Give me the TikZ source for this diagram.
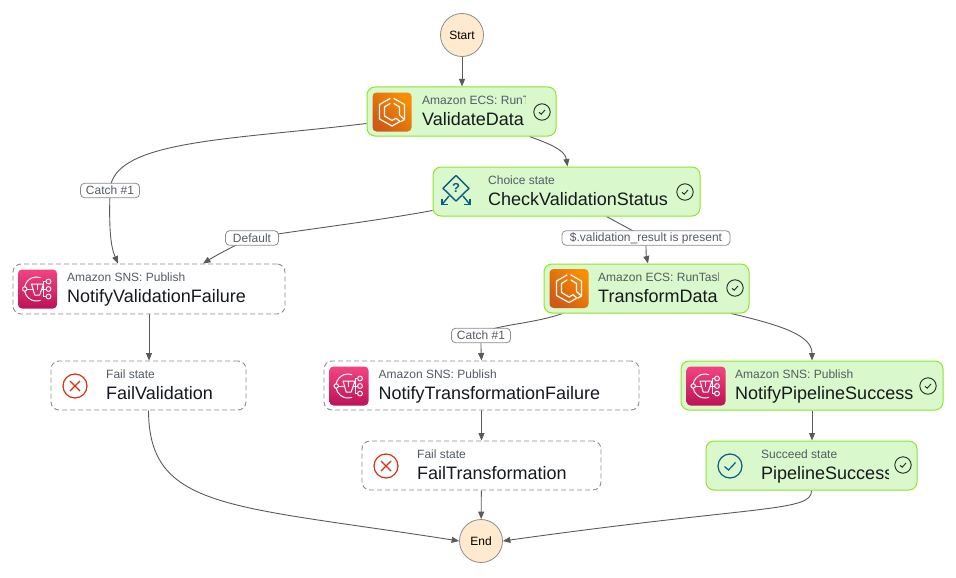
\documentclass[tikz,border=0pt]{standalone}
\usepackage{fontspec}
\setmainfont{Liberation Sans}
\usetikzlibrary{backgrounds,calc,arrows.meta}
\definecolor{okfill}{HTML}{D9F8CB}
\definecolor{okline}{HTML}{8EE52E}
\definecolor{dashline}{HTML}{8C8C8C}
\definecolor{edgecol}{HTML}{5A5A5A}
\definecolor{termfill}{HTML}{FFE9CF}
\definecolor{inkdark}{HTML}{16191F}
\definecolor{inksoft}{HTML}{545B64}
\definecolor{chk}{HTML}{1D2A2A}
\definecolor{blueic}{HTML}{0B5A87}
\definecolor{redic}{HTML}{D13212}
\definecolor{snstop}{HTML}{F34482}
\definecolor{snsbot}{HTML}{BC1356}
\definecolor{ecstop}{HTML}{F78E04}
\definecolor{ecsbot}{HTML}{CF5A16}
\tikzset{
  okstate/.style={draw=okline,fill=okfill,line width=1pt,rounded corners=8pt},
  pendstate/.style={draw=dashline,fill=white,line width=0.9pt,dash pattern=on 5pt off 3pt,rounded corners=8pt},
  termnode/.style={circle,draw=dashline,fill=termfill,line width=0.8pt,minimum size=43pt,inner sep=0pt,font=\fontsize{12}{12}\selectfont,text=black},
  edgelabel/.style={draw=dashline,fill=white,line width=0.8pt,rounded corners=4pt,inner sep=0pt,minimum height=14.5pt,text=inksoft,font=\fontsize{12}{12}\selectfont},
  conn/.style={draw=edgecol,line width=0.9pt,-{Triangle[length=7.5pt,width=6pt]}},
  smalltext/.style={anchor=base west,inner sep=0pt,text=inksoft,font=\fontsize{12}{12}\selectfont},
  bigtext/.style={anchor=base west,inner sep=0pt,text=inkdark,font=\fontsize{18}{18}\selectfont},
  ecsicon/.pic={
    \shade[rounded corners=4pt,top color=ecstop,bottom color=ecsbot,shading angle=-45] (-19.5,-19.5) rectangle (19.5,19.5);
    \draw[white,line width=1.2pt,line join=round,line cap=round]
      (-2,-13.5) -- (-12.5,-7.5) -- (-12.5,7) -- (0,14) -- (8,9.5);
    \draw[white,line width=1.2pt,line join=round,line cap=round]
      (-2,-8.5) -- (-7.5,-5) -- (-7.5,4) -- (0,8.5) -- (4,6.2) -- (8,9.5);
    \draw[white,line width=1.2pt,line join=round,line cap=round]
      (2,-13.5) -- (12.5,-7.5) -- (12.5,7.5) -- (9,9.5);
    \draw[white,line width=1.2pt,line join=round,line cap=round]
      (2,-8.5) -- (7.5,-5) -- (7.5,3) -- (12.5,7.5);
  },
  snsicon/.pic={
    \shade[rounded corners=4pt,top color=snstop,bottom color=snsbot] (-19.5,-19.5) rectangle (19.5,19.5);
    \draw[white,line width=1pt] (-12.8,-2.1) arc[start angle=190,end angle=290,radius=12];
    \draw[white,line width=1pt] (3.1,11.3) arc[start angle=70,end angle=170,radius=12];
    \draw[white,line width=1pt,line join=round] (-6,-5) -- (6,-5) -- (2.2,6) -- (-2.8,6) -- cycle;
    \draw[white,line width=1pt] (-0.5,-5) -- (-0.5,1);
    \draw[white,line width=1pt] (-12.8,0) circle[radius=2.2];
    \draw[white,line width=1pt] (-10.6,0) -- (-4.6,0);
    \draw[white,line width=1pt] (11,-7.5) circle[radius=2.4] (11,0) circle[radius=2.4] (11,7.5) circle[radius=2.4];
    \draw[white,line width=1pt] (8.6,-7.5) -- (6,-7.5) -- (6,7.5) -- (8.6,7.5) (4,0) -- (8.6,0);
  },
  choiceicon/.pic={
    \draw[blueic,line width=1.4pt,line join=round] (0,-16.5) -- (13,-3.7) -- (0,9) -- (-13,-3.7) -- cycle;
    \node[inner sep=0pt,text=blueic,font=\bfseries\fontsize{13}{13}\selectfont] at (0,-3.7) {?};
    \draw[blueic,line width=1.4pt] (-7,4) -- (-14,12.5) (7,4) -- (14,12.5);
    \draw[blueic,line width=1.4pt] (-14,6.5) -- (-14,12.5) -- (-8,12.5) (14,6.5) -- (14,12.5) -- (8,12.5);
  },
  failicon/.pic={
    \draw[redic,line width=1.2pt] (0,0) circle[radius=12];
    \draw[redic,line width=1.2pt] (-5,-5) -- (5,5) (-5,5) -- (5,-5);
  },
  succeedicon/.pic={
    \draw[blueic,line width=1.2pt] (0,0) circle[radius=12];
    \draw[blueic,line width=1.2pt] (-5.5,0.5) -- (-1.5,4) -- (5.5,-3.5);
  },
  checkicon/.pic={
    \draw[chk,line width=0.9pt] (0,0) circle[radius=8.2];
    \draw[chk,line width=0.9pt] (-3,0.3) -- (-0.8,2.2) -- (3,-2);
  }
}
% name, style, x0, y0, x1, y1, text offset, clip width, small; big text in \statebig
\newcommand{\stateblock}[9]{%
  \node[#2,minimum width=#5-#3,minimum height=#6-#4,inner sep=0pt] (#1) at ({(#3+#5)/2},{(#4+#6)/2}) {};
  \begin{scope}
    \clip ({#3+#7},#4) rectangle ({#3+#7+#8},#6);
    \node[smalltext] (#1small) at ({#3+#7},{(#4+#6)/2-7.5}) {#9};
    \node[bigtext] (#1big) at ({#3+#7},{(#4+#6)/2+13.5}) {\statebig};
  \end{scope}%
}
\newcommand{\statebig}{}
\begin{document}
\begin{tikzpicture}[x=1pt,y=-1pt]
\useasboundingbox (0,0) rectangle (956,578);
\node[termnode] (start) at (462,35) {Start};
\node[termnode] (end) at (481,541) {End};

\renewcommand{\statebig}{ValidateData}
\stateblock{val}{okstate}{367}{87}{556}{136}{55}{103}{Amazon ECS: RunTask}
\renewcommand{\statebig}{CheckValidationStatus}
\stateblock{chk}{okstate}{433}{167}{700}{216}{55}{190}{Choice state}
\renewcommand{\statebig}{NotifyValidationFailure}
\stateblock{nvf}{pendstate}{13}{264}{285}{314}{54}{200}{Amazon SNS: Publish}
\renewcommand{\statebig}{FailValidation}
\stateblock{fv}{pendstate}{51}{361}{246}{410}{55}{130}{Fail state}
\renewcommand{\statebig}{TransformData}
\stateblock{tr}{okstate}{544}{264}{749}{313}{54}{120}{Amazon ECS: RunTask}
\renewcommand{\statebig}{NotifyTransformationFailure}
\stateblock{ntf}{pendstate}{324}{361}{639}{410}{54.5}{250}{Amazon SNS: Publish}
\renewcommand{\statebig}{FailTransformation}
\stateblock{ft}{pendstate}{362}{441}{601}{490}{55}{170}{Fail state}
\renewcommand{\statebig}{NotifyPipelineSuccess}
\stateblock{nps}{okstate}{681}{361}{943}{410}{54}{185}{Amazon SNS: Publish}
\renewcommand{\statebig}{PipelineSuccess}
\stateblock{ps}{okstate}{706}{441}{917}{490}{55}{127}{Succeed state}

\pic at (392,112) {ecsicon};
\pic at (569,288.5) {ecsicon};
\pic at (37.5,289) {snsicon};
\pic at (349,386) {snsicon};
\pic at (706,386) {snsicon};
\pic at (456,192) {choiceicon};
\pic at (75,386) {failicon};
\pic at (386,466) {failicon};
\pic at (730,466) {succeedicon};
\pic at (542,112) {checkicon};
\pic at (685,192) {checkicon};
\pic at (735,288) {checkicon};
\pic at (928,386) {checkicon};
\pic at (903,465) {checkicon};

\node[edgelabel,minimum width=59pt] (lcatcha) at (110,190.5) {Catch \#1};
\node[edgelabel,minimum width=53pt] (ldef) at (252,238) {Default};
\node[edgelabel,minimum width=168pt] (lval) at (646,238) {\$.validation\_result is present};
\node[edgelabel,minimum width=59pt] (lcatchb) at (481,335.5) {Catch \#1};

\begin{scope}[on background layer]
\draw[conn] (start) -- (val.north -| start);
\draw[conn] ([yshift=-12]val.west) .. controls (230,140) and (112,140) .. (lcatcha.center)
   .. controls (109,225) and (110,245) .. ([xshift=-31]nvf.north);
\draw[conn] ([xshift=68]val.south) .. controls (550,144) and (565,150) .. ([xshift=1]chk.north);
\draw[conn] ([yshift=-19]chk.west) .. controls (370,222) and (300,230) .. (ldef.center)
   .. controls (235,245) and (215,256) .. ([xshift=54]nvf.north);
\draw[conn] ([xshift=40]chk.south) -- (lval.center) .. controls (646,245) and (646,255) .. ([xshift=1.5]tr.north);
\draw[conn] ([xshift=-84]tr.south) .. controls (530,325) and (487,325) .. (lcatchb.center)
   .. controls (481,345) and (481,350) .. (ntf.north);
\draw[conn] ([xshift=84.5]tr.south) .. controls (780,325) and (812,335) .. ([xshift=0]nps.north);
\draw[conn] (nvf) -- (fv.north -| nvf);
\draw[conn] (ntf) -- (ft.north -| ntf);
\draw[conn] (nps) -- (ps.north -| nps);
\draw[conn] (fv.south) .. controls (149,510) and (230,505) .. (end.west);
\draw[conn] (ft) -- (end);
\draw[conn] ([xshift=0]ps.south) .. controls (812,512) and (760,505) .. (end.east);
\end{scope}
\end{tikzpicture}
\end{document}
